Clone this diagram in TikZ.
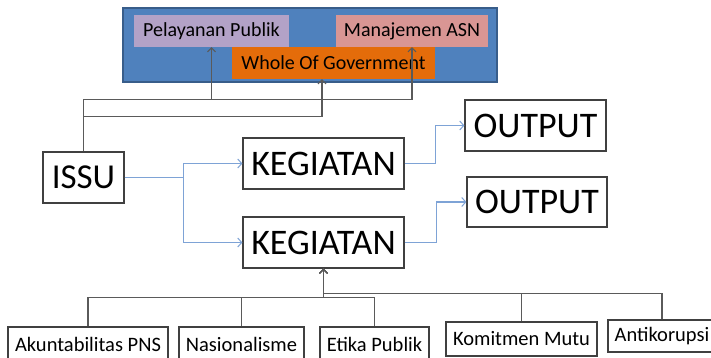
\documentclass[tikz,border=0pt]{standalone}
\usepackage{fontspec}
\setmainfont{Carlito}
\usetikzlibrary{arrows.meta}
\definecolor{panelfill}{HTML}{4F81BD}
\definecolor{paneldraw}{HTML}{385D8A}
\definecolor{pelfill}{HTML}{B3A2C7}
\definecolor{manfill}{HTML}{D99694}
\definecolor{wogfill}{HTML}{E46C0A}
\definecolor{boxline}{HTML}{404040}
\definecolor{greyline}{HTML}{5A5A5A}
\definecolor{blueline}{HTML}{7EA3D6}
\tikzset{
  box/.style={draw=boxline, line width=1.2pt, fill=white, inner sep=0pt, align=center},
  tagbox/.style={inner sep=0pt, font=\fontsize{20}{24}\selectfont},
  bigtext/.style={font=\fontsize{36}{40}\selectfont},
  smalltext/.style={font=\fontsize{20.5}{24}\selectfont},
  conn/.style={draw=greyline, line width=1.2pt, -{Straight Barb[length=4pt,width=8pt,line width=1pt]}},
  bconn/.style={draw=blueline, line width=1.2pt, -{Straight Barb[length=4pt,width=9pt,line width=1pt]}},
}
\begin{document}
\begin{tikzpicture}[x=1pt,y=-1pt]
\clip (0,0) rectangle (711,357);
\fill[white] (0,0) rectangle (711,357);
% top panel
\draw[fill=panelfill, draw=paneldraw, line width=1.6pt] (123,8) rectangle (497,82);
\node[tagbox, fill=pelfill, minimum width=155pt, minimum height=32pt] (pel) at (211.5,31) {Pelayanan Publik};
\node[tagbox, fill=manfill, minimum width=152pt, minimum height=32pt] (man) at (412,31) {Manajemen ASN};
\node[tagbox, fill=wogfill, minimum width=203pt, minimum height=32pt] (wog) at (333.5,63) {Whole Of Government};
\coordinate (wogin) at ([xshift=-11.5pt]wog.south);
% main boxes
\node[box, font=\fontsize{35}{40}\selectfont, minimum width=81pt, minimum height=51pt] (issu) at (83.5,177.5) {ISSU};
\node[box, bigtext, minimum width=161pt, minimum height=51pt] (keg1) at (323.5,163.5) {KEGIATAN};
\node[box, bigtext, minimum width=161pt, minimum height=51pt] (keg2) at (323.5,242.5) {KEGIATAN};
\node[box, bigtext, minimum width=141pt, minimum height=51pt] (out1) at (535.5,125.5) {OUTPUT};
\node[box, bigtext, minimum width=140pt, minimum height=50pt] (out2) at (537,202) {OUTPUT};
% bottom boxes
\node[box, smalltext, minimum width=160pt, minimum height=34pt] (akun) at (88,344) {Akuntabilitas PNS};
\node[box, smalltext, minimum width=125pt, minimum height=34pt] (nas) at (241.5,344) {Nasionalisme};
\node[box, smalltext, minimum width=109pt, minimum height=34pt] (etika) at (374.5,344) {Etika Publik};
\node[box, smalltext, minimum width=151pt, minimum height=34pt] (komit) at (521.5,339) {Komitmen Mutu};
\node[box, smalltext, minimum width=108pt, minimum height=32pt] (anti) at (662,336) {Antikorupsi};
% top connectors
\draw[conn] (issu.north) -- ++(0,-52) -| (pel.south);
\draw[conn] (issu.north) -- ++(0,-52) -| (man.south);
\draw[conn] (issu.north) -- ++(0,-35) -| (wogin);
% blue connectors
\draw[bconn] (issu.east) -- ++(59,0) |- (keg1.west);
\draw[bconn] (issu.east) -- ++(59,0) |- (keg2.west);
\draw[bconn] (keg1.east) -- ++(31,0) |- (out1.west);
\draw[bconn] (keg2.east) -- ++(32,0) |- (out2.west);
% bottom connectors
\draw[conn] (akun.north) -- ++(0,-29) -| (keg2.south);
\draw[conn] (nas.north) -- ++(0,-29) -| (keg2.south);
\draw[conn] (etika.north) -- ++(0,-29) -| (keg2.south);
\draw[conn] (komit.north) -- ++(0,-28) -| (keg2.south);
\draw[conn] (anti.north) -- ++(0,-26) -| (keg2.south);
\end{tikzpicture}
\end{document}
